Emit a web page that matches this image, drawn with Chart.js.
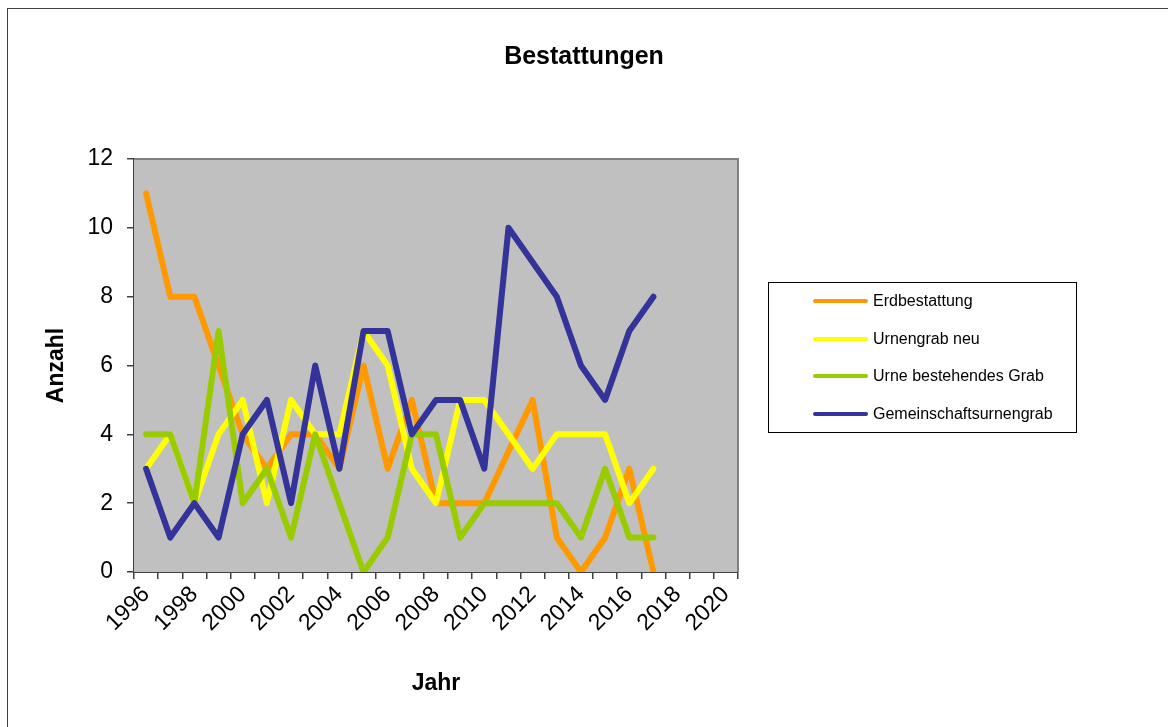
<!DOCTYPE html>
<html>
<head>
<meta charset="utf-8">
<script src="https://cdn.jsdelivr.net/npm/chart.js@4.4.1/dist/chart.umd.min.js"></script>
<style>
  body { margin: 0; background: #fff; font-family: "Liberation Sans", Arial, sans-serif; }
  #wrap { position: relative; width: 1168px; height: 727px; overflow: hidden; }
  #frame { position: absolute; left: 7px; top: 8px; width: 1200px; height: 760px; border: 1px solid #404040; box-sizing: border-box; }
  #title { position: absolute; left: 0; width: 1168px; top: 40px; text-align: center; font-weight: bold; font-size: 25px; line-height: 30px; }
  #legend { position: absolute; left: 768px; top: 282px; width: 309px; height: 151px; border: 1px solid #000; box-sizing: border-box; }
  .item { position: absolute; left: 44px; height: 20px; }
  .swatch { position: absolute; left: 0; top: 8px; width: 55px; height: 4px; border-radius: 2px; }
  .label { position: absolute; left: 60px; top: 0; font-size: 16px; line-height: 20px; white-space: nowrap; }
  canvas { position: absolute; left: 0; top: 0; }
</style>
</head>
<body>
<div id="wrap">
  <div id="frame"></div>
  <canvas id="chart" width="1168" height="727"></canvas>
  <div id="title">Bestattungen</div>
  <div id="legend"></div>
</div>
<script>
// ---------------- DATA ----------------
const years = ["1996", "1997", "1998", "1999", "2000", "2001", "2002", "2003", "2004", "2005",
               "2006", "2007", "2008", "2009", "2010", "2011", "2012", "2013", "2014", "2015",
               "2016", "2017", "2018", "2019", "2020"];

const erdbestattung = [11, 8, 8, 6, 4, 3, 4, 4, 3, 6, 3, 5, 2, 2, 2, 3.5, 5, 1, 0, 1, 3, 0];
const urnengrabNeu = [3, 4, 2, 4, 5, 2, 5, 4, 4, 7, 6, 3, 2, 5, 5, 4, 3, 4, 4, 4, 2, 3];
const urneBestehend = [4, 4, 2, 7, 2, 3, 1, 4, 2, 0, 1, 4, 4, 1, 2, 2, 2, 2, 1, 3, 1, 1];
const gemeinschaft = [3, 1, 2, 1, 4, 5, 2, 6, 3, 7, 7, 4, 5, 5, 3, 10, 9, 8, 6, 5, 7, 8];

const seriesNames = ["Erdbestattung", "Urnengrab neu", "Urne bestehendes Grab", "Gemeinschaftsurnengrab"];
const seriesColors = ["#FF9900", "#FFFF00", "#99CC00", "#333399"];
const seriesValues = [erdbestattung, urnengrabNeu, urneBestehend, gemeinschaft];

// ---------------- LEGEND (html) ----------------
const legend = document.getElementById("legend");
seriesNames.forEach((name, i) => {
    const top = 8 + i * 37.5;
    legend.insertAdjacentHTML("beforeend",
        `<div class="item" style="top:${top}px">
           <div class="swatch" style="background:${seriesColors[i]}"></div>
           <div class="label">${name}</div>
         </div>`);
});

// grey plot area with a frame
const plotBackground = {
    id: "plotBackground",
    beforeDatasetsDraw(chart) {
        const { ctx, chartArea: a } = chart;
        ctx.save();
        ctx.fillStyle = "#C0C0C0";
        ctx.fillRect(a.left, a.top, a.right - a.left, a.bottom - a.top);
        ctx.strokeStyle = "#808080";
        ctx.lineWidth = 2;
        ctx.beginPath();
        ctx.moveTo(a.left, a.top);
        ctx.lineTo(a.right, a.top);
        ctx.lineTo(a.right, a.bottom);
        ctx.stroke();
        ctx.restore();
    }
};

const axisFont = { family: "'Liberation Sans', Arial, sans-serif", size: 23 };
const axisTitleFont = { family: "'Liberation Sans', Arial, sans-serif", size: 23, weight: "bold" };

new Chart(document.getElementById("chart"), {
    type: "line",
    data: {
        labels: years,
        datasets: seriesNames.map((name, i) => ({
            label: name,
            data: seriesValues[i],
            borderColor: seriesColors[i],
            backgroundColor: seriesColors[i],
            borderWidth: 6,
            pointRadius: 0,
            borderCapStyle: "round",
            borderJoinStyle: "round",
            tension: 0,
            clip: 0,
            order: 4 - i
        }))
    },
    options: {
        responsive: false,
        animation: false,
        layout: { padding: { left: 0, right: 430, top: 159, bottom: 0 } },
        plugins: {
            legend: { display: false },
            title: { display: false },
            tooltip: { enabled: false }
        },
        scales: {
            x: {
                type: "category",
                offset: true,
                grid: { offset: true, drawOnChartArea: false, drawTicks: true, tickLength: 7, color: "#404040", lineWidth: 1.5 },
                border: { color: "#404040", width: 2 },
                ticks: {
                    autoSkip: false,
                    maxRotation: 45,
                    minRotation: 45,
                    padding: 2,
                    color: "#000",
                    font: axisFont,
                    callback: function (v, i) { return i % 2 === 0 ? this.getLabelForValue(v) : ""; }
                },
                title: { display: true, text: "Jahr", color: "#000", font: axisTitleFont, padding: { top: 0, bottom: 30 } },
                afterFit: (scale) => { scale.height = 155; }
            },
            y: {
                min: 0,
                max: 12,
                grid: { drawOnChartArea: false, drawTicks: true, tickLength: 7, color: "#404040", lineWidth: 1.5 },
                border: { color: "#404040", width: 2 },
                ticks: { stepSize: 2, padding: 14, color: "#000", font: axisFont },
                title: { display: true, text: "Anzahl", color: "#000", font: axisTitleFont, padding: { top: 43, bottom: 0 } },
                afterFit: (scale) => { scale.width = 134; }
            }
        }
    },
    plugins: [plotBackground]
});
</script>
</body>
</html>
